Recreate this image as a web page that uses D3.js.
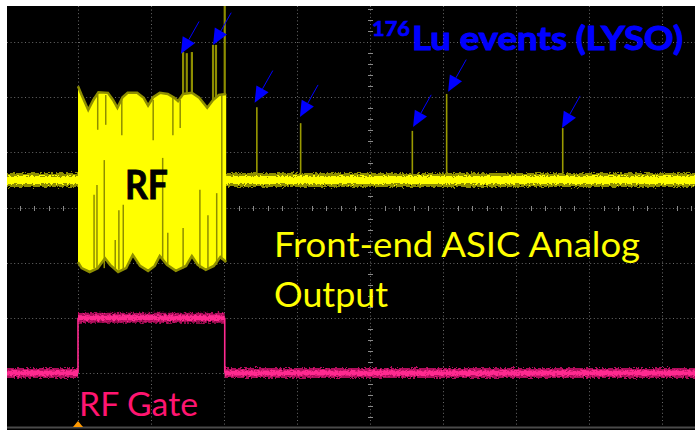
<!DOCTYPE html>
<html>
<head>
<meta charset="utf-8">
<script src="https://cdn.jsdelivr.net/npm/d3@7"></script>
<style>
  body { margin: 0; background: #fff; }
  svg { display: block; }
  text { font-family: Lato, "Open Sans", sans-serif; }
</style>
</head>
<body>
<svg id="scope" width="695" height="430"></svg>
<script>
// screen units: time and voltage in divisions (10 x 8 graticule)
const yellowLevel = 0.5;
const gateLow = -3.0;
const gateHigh = -2.0;
const gateOn = 1.0;
const gateOff = 3.01;
const triggerTime = 1.0;

// RF burst envelope [time, volts]
const burstTop = [[1.00,2.20],[1.05,2.04],[1.14,1.77],[1.21,1.95],[1.28,2.09],[1.41,2.08],[1.48,1.95],[1.54,1.81],[1.61,2.00],[1.68,2.08],[1.81,2.08],[1.90,1.99],[1.96,1.85],[2.03,2.00],[2.12,2.08],[2.23,2.06],[2.32,1.99],[2.37,1.93],[2.44,2.06],[2.56,2.08],[2.66,1.99],[2.77,1.81],[2.85,1.95],[2.93,2.04],[3.03,2.06]];
const burstBottom = [[1.00,-0.99],[1.05,-1.10],[1.16,-1.17],[1.27,-1.10],[1.37,-0.92],[1.44,-1.04],[1.55,-1.17],[1.66,-1.10],[1.75,-0.86],[1.85,-1.06],[1.96,-1.15],[2.05,-1.06],[2.12,-0.88],[2.22,-1.04],[2.34,-1.15],[2.48,-1.06],[2.56,-0.88],[2.64,-1.04],[2.75,-1.13],[2.86,-1.06],[2.95,-0.90],[3.03,-0.99]];

// dark glitches inside the burst [time, from, to]
const burstGlitches = [[1.22,0.23,-1.10],[1.26,0.41,-1.10],[1.27,2.04,1.41],[1.36,0.86,-1.10],[1.38,2.04,1.50],[1.51,-0.59,-1.13],[1.56,-0.05,-1.13],[1.60,1.95,1.31],[1.62,0.05,-1.13],[2.03,1.95,1.22],[2.16,0.90,-0.95],[2.23,-0.46,-1.04],[2.30,1.99,1.31],[2.40,1.95,1.44],[2.44,-0.37,-1.10],[2.67,0.32,-1.10],[2.78,-0.14,-1.10],[2.90,0.26,-1.04],[2.97,2.04,-0.95]];

// pile-up pulses on top of the burst [time, peak]
const pileUps = [[2.44,2.82],[2.49,2.80],[2.56,2.82],[2.85,2.95],[2.89,2.95],[3.01,4.0]];
// 176Lu events after the burst [time, peak]
const luEvents = [[3.45,1.82],[4.05,1.53],[5.58,1.39],[6.05,2.06],[7.64,1.44]];
// arrow tips [time, volts]
const arrowTips = [[2.41,2.79],[2.85,2.95],[3.42,1.90],[4.04,1.64],[5.59,1.46],[6.07,2.10],[7.63,1.44]];

const svg = d3.select('#scope');
const x = d3.scaleLinear().domain([0, 10]).range([5, 735]);
const y = d3.scaleLinear().domain([-4, 4]).range([428, -13]);

const defs = svg.append('defs');
defs.append('clipPath').attr('id', 'plot')
  .append('rect').attr('x', 7).attr('y', 6).attr('width', 688).attr('height', 421);

const noise = defs.append('filter').attr('id', 'noise')
  .attr('filterUnits', 'userSpaceOnUse')
  .attr('x', 0).attr('y', 0).attr('width', 695).attr('height', 430);
noise.append('feTurbulence').attr('type', 'fractalNoise')
  .attr('baseFrequency', '0.45 0.6').attr('numOctaves', 2).attr('seed', 4).attr('result', 't');
noise.append('feColorMatrix').attr('in', 't').attr('type', 'matrix')
  .attr('values', '0 0 0 0 0.5  0 1 0 0 0  0 0 1 0 0  0 0 0 0 1').attr('result', 'm');
noise.append('feDisplacementMap').attr('in', 'SourceGraphic').attr('in2', 'm')
  .attr('scale', 6).attr('xChannelSelector', 'R').attr('yChannelSelector', 'G');

svg.append('rect').attr('x', 7).attr('y', 6).attr('width', 688).attr('height', 424).attr('fill', '#000');

const g = svg.append('g').attr('clip-path', 'url(#plot)');

// graticule
const grid = g.append('g').attr('stroke', '#6a6a6a').attr('stroke-width', 1).attr('stroke-dasharray', '1,2.6');
grid.selectAll('.vx').data(d3.range(0, 11)).enter().append('line')
  .attr('x1', d => x(d) + 0.5).attr('x2', d => x(d) + 0.5)
  .attr('y1', 6).attr('y2', 428);
grid.selectAll('.hy').data(d3.range(-3, 4)).enter().append('line')
  .attr('y1', d => Math.round(y(d)) + 0.5).attr('y2', d => Math.round(y(d)) + 0.5)
  .attr('x1', 7).attr('x2', 695);

const ticks = g.append('g').attr('stroke', '#8a8a8a').attr('stroke-width', 1);
ticks.selectAll('.tx').data(d3.range(0, 50).filter(i => i % 5)).enter().append('line')
  .attr('x1', i => Math.round(x(i / 5)) + 0.5).attr('x2', i => Math.round(x(i / 5)) + 0.5)
  .attr('y1', Math.round(y(0)) - 2).attr('y2', Math.round(y(0)) + 3);
ticks.selectAll('.ty').data(d3.range(-20, 20).filter(i => i % 5)).enter().append('line')
  .attr('y1', i => Math.round(y(i / 5)) + 0.5).attr('y2', i => Math.round(y(i / 5)) + 0.5)
  .attr('x1', Math.round(x(5)) - 2).attr('x2', Math.round(x(5)) + 3);

const line = d3.line().x(d => x(d[0])).y(d => y(d[1]));
const olive = '#8e8e00';
const yel = '#ffff00';

// spikes (under the baseline band / burst)
g.selectAll('.pile').data(pileUps).enter().append('line')
  .attr('x1', d => x(d[0])).attr('x2', d => x(d[0]))
  .attr('y1', y(yellowLevel)).attr('y2', d => y(d[1]))
  .attr('stroke', olive).attr('stroke-width', 2.2);
g.selectAll('.lu').data(luEvents).enter().append('line')
  .attr('x1', d => x(d[0])).attr('x2', d => x(d[0]))
  .attr('y1', y(yellowLevel)).attr('y2', d => y(d[1]))
  .attr('stroke', '#9a9a00').attr('stroke-width', 1.6);

// yellow baseline band
const band = g.append('g').attr('filter', 'url(#noise)');
band.append('path').datum([[0, yellowLevel], [10, yellowLevel]]).attr('d', line)
  .attr('stroke', olive).attr('stroke-width', 14).attr('fill', 'none');
band.append('path').datum([[0, yellowLevel], [10, yellowLevel]]).attr('d', line)
  .attr('stroke', yel).attr('stroke-width', 8).attr('fill', 'none');

// RF burst
const area = d3.area().x(d => x(d[0])).y0(d => y(d[1])).y1(d => y(d[2]));
const topI = d3.scaleLinear().domain(burstTop.map(d => d[0])).range(burstTop.map(d => d[1]));
const botI = d3.scaleLinear().domain(burstBottom.map(d => d[0])).range(burstBottom.map(d => d[1]));
const allX = Array.from(new Set(burstTop.map(d => d[0]).concat(burstBottom.map(d => d[0])))).sort((a, b) => a - b);
g.append('path').datum(allX.map(t => [t, topI(t), botI(t)])).attr('d', area).attr('fill', yel);
g.append('path').datum(burstTop).attr('d', line).attr('fill', 'none')
  .attr('stroke', olive).attr('stroke-width', 2.5);
g.append('path').datum(burstBottom).attr('d', line).attr('fill', 'none')
  .attr('stroke', olive).attr('stroke-width', 2.5);
g.selectAll('.gl').data(burstGlitches).enter().append('line')
  .attr('x1', d => x(d[0])).attr('x2', d => x(d[0]))
  .attr('y1', d => y(d[1])).attr('y2', d => y(d[2]))
  .attr('stroke', olive).attr('stroke-width', 1.5);

// RF gate (pink)
const gateSegs = [[0, gateOn, gateLow], [gateOn, gateOff, gateHigh], [gateOff, 10, gateLow]];
const gate = g.append('g').attr('filter', 'url(#noise)');
gate.selectAll('.gs').data(gateSegs).enter().append('line')
  .attr('x1', d => x(d[0])).attr('x2', d => x(d[1]))
  .attr('y1', d => y(d[2])).attr('y2', d => y(d[2]))
  .attr('stroke', '#b0105c').attr('stroke-width', 10);
gate.selectAll('.gc').data(gateSegs).enter().append('line')
  .attr('x1', d => x(d[0])).attr('x2', d => x(d[1]))
  .attr('y1', d => y(d[2])).attr('y2', d => y(d[2]))
  .attr('stroke', '#ff2a90').attr('stroke-width', 5);
g.selectAll('.ge').data([gateOn, gateOff]).enter().append('line')
  .attr('x1', d => x(d)).attr('x2', d => x(d))
  .attr('y1', y(gateHigh)).attr('y2', y(gateLow))
  .attr('stroke', '#ff2a90').attr('stroke-width', 1.6);

// blue arrows
const ux = 0.49, uy = -0.87, len = 37, hl = 16, hw = 7;
const arrows = g.append('g');
arrowTips.forEach(d => {
  const tx = x(d[0]), ty = y(d[1]);
  const bx = tx + ux * hl, by = ty + uy * hl;
  arrows.append('line').attr('x1', bx).attr('y1', by)
    .attr('x2', tx + ux * len).attr('y2', ty + uy * len)
    .attr('stroke', '#0000ff').attr('stroke-width', 1);
  arrows.append('polygon')
    .attr('points', [[tx, ty], [bx - uy * hw, by + ux * hw], [bx + uy * hw, by - ux * hw]].join(' '))
    .attr('fill', '#0000ff');
});

// bottom rail + trigger marker
svg.append('line').attr('x1', 7).attr('x2', 695).attr('y1', 427.5).attr('y2', 427.5)
  .attr('stroke', '#4a4a4a').attr('stroke-width', 2);
svg.append('path')
  .attr('d', `M${x(triggerTime) - 5},427 L${x(triggerTime) + 5},427 L${x(triggerTime)},421 Z`)
  .attr('fill', '#ff9900');

// labels
svg.append('text').attr('x', 125).attr('y', 199).text('RF')
  .attr('font-size', 40).attr('font-weight', 'bold').attr('fill', '#000')
  .attr('stroke', '#000').attr('stroke-width', 0.8)
  .attr('textLength', 43).attr('lengthAdjust', 'spacingAndGlyphs');
svg.append('text').attr('x', 274).attr('y', 257).text('Front-end ASIC Analog')
  .attr('font-size', 34).attr('fill', '#ffff00')
  .attr('textLength', 366).attr('lengthAdjust', 'spacingAndGlyphs');
svg.append('text').attr('x', 274).attr('y', 307).text('Output')
  .attr('font-size', 34).attr('fill', '#ffff00')
  .attr('textLength', 114).attr('lengthAdjust', 'spacingAndGlyphs');
svg.append('text').attr('x', 79).attr('y', 416).text('RF Gate')
  .attr('font-size', 33).attr('fill', '#ff1570')
  .attr('textLength', 119).attr('lengthAdjust', 'spacingAndGlyphs');
svg.append('text').attr('x', 372).attr('y', 36).text('176')
  .attr('font-size', 20).attr('font-weight', 'bold').attr('fill', '#0000ff')
  .attr('stroke', '#0000ff').attr('stroke-width', 0.6)
  .attr('textLength', 38).attr('lengthAdjust', 'spacingAndGlyphs');
svg.append('text').attr('x', 412).attr('y', 50).text('Lu events (LYSO)')
  .attr('font-size', 33).attr('font-weight', 'bold').attr('fill', '#0000ff')
  .attr('stroke', '#0000ff').attr('stroke-width', 1)
  .attr('textLength', 271).attr('lengthAdjust', 'spacingAndGlyphs');
</script>
</body>
</html>
